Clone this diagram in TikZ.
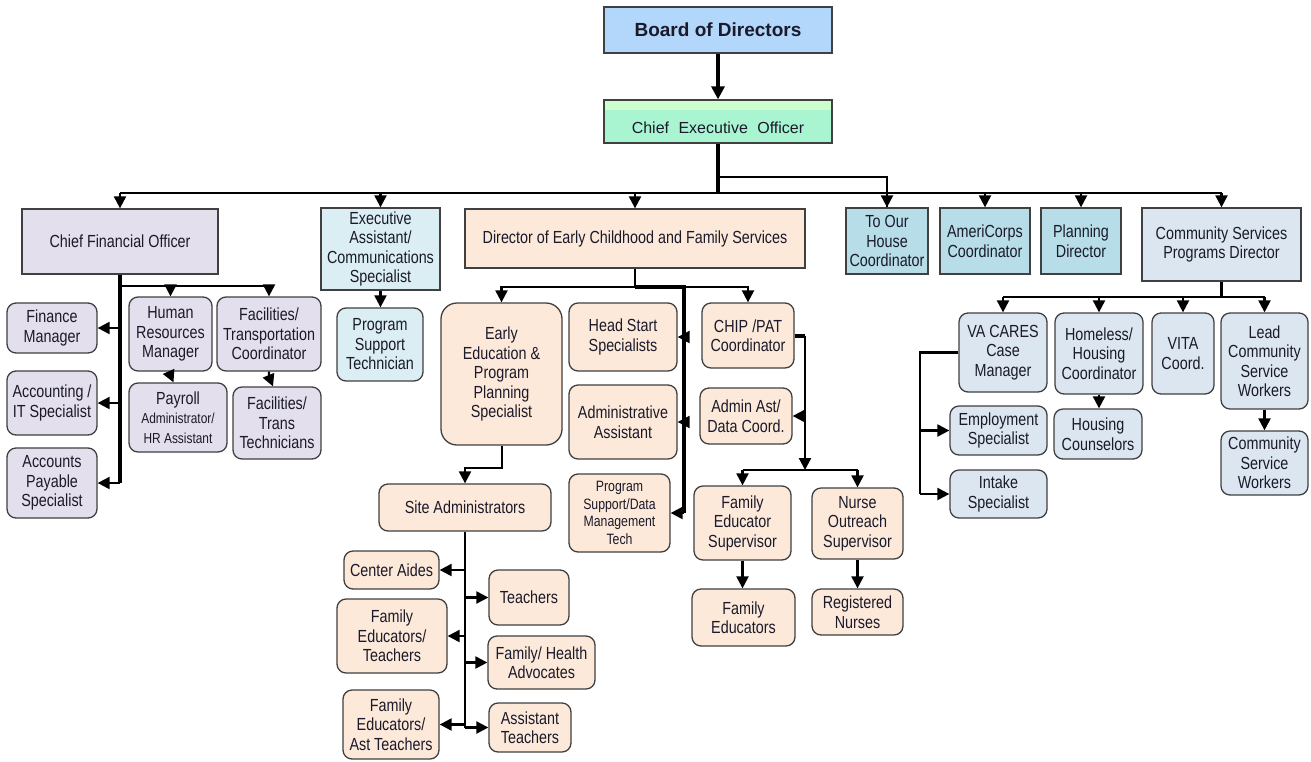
\documentclass[tikz,border=0pt]{standalone}
\usepackage{fontspec}
\setmainfont{Liberation Sans}[FakeStretch=0.82]
\newfontfamily\plainfont{Liberation Sans}
\usetikzlibrary{arrows.meta,calc}
\definecolor{bdfill}{HTML}{B3D6FB}
\definecolor{ceofill}{HTML}{A9F5D2}
\definecolor{ceotop}{HTML}{CCFFCC}
\definecolor{lavbx}{HTML}{E4DFEC}
\definecolor{exbx}{HTML}{DAEEF3}
\definecolor{pchbx}{HTML}{FDE9D9}
\definecolor{tealbx}{HTML}{B7DEE8}
\definecolor{csbx}{HTML}{DCE6F1}
\definecolor{edgec}{HTML}{404040}
\definecolor{txtc}{HTML}{1A1A2A}
\tikzset{
  bx/.style={draw=edgec, line width=1.3pt, inner sep=0pt, align=center,
    font=\fontsize{17.5}{19.5}\selectfont, text=txtc},
  sq/.style={bx},
  rd/.style={bx, rounded corners=9pt},
  ln/.style={line width=2.2pt},
  thk/.style={line width=3.2pt},
  arr/.style={ln, -{Triangle[length=12pt,width=12pt]}},
  tarr/.style={thk, -{Triangle[length=13pt,width=13pt]}},
}
\newcommand\Bx[7]{\node[#1, minimum width={(#5)-(#3)}, minimum height={(#6)-(#4)}] (#2) at ({((#3)+(#5))/2},{((#4)+(#6))/2}) {#7};}
\begin{document}
\begin{tikzpicture}[x=1pt,y=-1pt]
\fill[white] (0,0) rectangle (1311,761);
\useasboundingbox (0,0) rectangle (1311,761);

% top
\Bx{bx,fill=bdfill,font=\plainfont\bfseries\fontsize{19}{22}\selectfont}{board}{604}{7}{832}{53}{Board of Directors}
\Bx{bx,fill=ceofill,font=\plainfont\fontsize{16}{19}\selectfont,
  path picture={\fill[ceotop] (path picture bounding box.north west) rectangle ([yshift=-10pt]path picture bounding box.north east);}}{ceo}{604}{100}{832}{143}{\raisebox{-6pt}[\height][\depth]{Chief\hspace{5pt} Executive\hspace{5pt} Officer}}

% second row
\Bx{sq,fill=lavbx}{cfo}{22}{209}{218}{274}{Chief Financial Officer}
\Bx{sq,fill=exbx}{exec}{321}{208}{440}{290}{Executive\\Assistant/\\Communications\\Specialist}
\Bx{sq,fill=pchbx}{dir}{465}{209}{805}{268}{Director of Early Childhood and Family Services}
\Bx{sq,fill=tealbx}{toh}{846}{208}{928}{274}{To Our\\House\\Coordinator}
\Bx{sq,fill=tealbx}{ameri}{940}{208}{1030}{274}{AmeriCorps\\Coordinator}
\Bx{sq,fill=tealbx}{plan}{1041}{208}{1121}{274}{Planning\\Director}
\Bx{sq,fill=csbx}{cspd}{1142}{208}{1301}{281}{Community Services\\Programs Director}

% finance
\Bx{rd,fill=lavbx}{fin}{7}{303}{97}{353}{Finance\\Manager}
\Bx{rd,fill=lavbx}{acc}{7}{371}{97}{435}{Accounting /\\IT Specialist}
\Bx{rd,fill=lavbx}{ap}{7}{448}{97}{518}{Accounts\\Payable\\Specialist}
\Bx{rd,fill=lavbx}{hr}{129}{297}{212}{371}{Human\\Resources\\Manager}
\Bx{rd,fill=lavbx}{fac}{217}{297}{321}{371}{Facilities/\\Transportation\\Coordinator}
\Bx{rd,fill=lavbx}{pay}{129}{383}{227}{452}{Payroll\\{\fontsize{14.5}{18}\selectfont Administrator/}\\{\fontsize{14.5}{18}\selectfont HR Assistant}}
\Bx{rd,fill=lavbx}{ftech}{233}{387}{321}{459}{Facilities/\\Trans\\Technicians}
\Bx{rd,fill=exbx}{pst}{337}{308}{423}{381}{Program\\Support\\Technician}

% early childhood
\Bx{rd,rounded corners=16pt,fill=pchbx}{eeps}{441}{303}{562}{445}{Early\\Education \&\\Program\\Planning\\Specialist}
\Bx{rd,fill=pchbx}{hs}{569}{303}{677}{371}{Head Start\\Specialists}
\Bx{rd,fill=pchbx}{aa}{569}{385}{677}{459}{Administrative\\Assistant}
\Bx{rd,fill=pchbx,font=\fontsize{15}{17.5}\selectfont}{psdm}{569}{474}{670}{552}{Program\\Support/Data\\Management\\Tech}
\Bx{rd,fill=pchbx}{chip}{702}{303}{794}{368}{CHIP /PAT\\Coordinator}
\Bx{rd,fill=pchbx}{aad}{700}{388}{792}{444}{Admin Ast/\\Data Coord.}
\Bx{rd,fill=pchbx}{fes}{694}{486}{791}{560}{Family\\Educator\\Supervisor}
\Bx{rd,fill=pchbx}{nos}{812}{488}{903}{559}{Nurse\\Outreach\\Supervisor}
\Bx{rd,fill=pchbx}{fe}{692}{589}{795}{646}{Family\\Educators}
\Bx{rd,fill=pchbx}{rn}{812}{589}{903}{635}{Registered\\Nurses}
\Bx{rd,fill=pchbx}{sa}{379}{484}{551}{531}{Site Administrators}
\Bx{rd,fill=pchbx}{ca}{344}{551}{439}{589}{Center Aides}
\Bx{rd,fill=pchbx}{tch}{489}{570}{569}{625}{Teachers}
\Bx{rd,fill=pchbx}{fet}{337}{599}{447}{673}{Family\\Educators/\\Teachers}
\Bx{rd,fill=pchbx}{fha}{488}{636}{595}{689}{Family/ Health\\Advocates}
\Bx{rd,fill=pchbx}{feat}{343}{690}{439}{759}{Family\\Educators/\\Ast Teachers}
\Bx{rd,fill=pchbx}{ast}{489}{703}{571}{752}{Assistant\\Teachers}

% community services
\Bx{rd,fill=csbx}{va}{959}{313}{1047}{392}{VA CARES\\Case\\Manager}
\Bx{rd,fill=csbx}{hh}{1055}{313}{1143}{394}{Homeless/\\Housing\\Coordinator}
\Bx{rd,fill=csbx}{vita}{1152}{313}{1214}{394}{VITA\\Coord.}
\Bx{rd,fill=csbx}{lead}{1221}{313}{1308}{409}{Lead\\Community\\Service\\Workers}
\Bx{rd,fill=csbx}{emp}{950}{406}{1047}{455}{Employment\\Specialist}
\Bx{rd,fill=csbx}{hc}{1054}{409}{1142}{459}{Housing\\Counselors}
\Bx{rd,fill=csbx}{intake}{950}{470}{1047}{518}{Intake\\Specialist}
\Bx{rd,fill=csbx}{csw}{1221}{431}{1308}{495}{Community\\Service\\Workers}

% ---------- connectors ----------
\coordinate (bus) at (718,193);
\coordinate (bus2) at (718,177);
\draw[tarr] (board.south) -- (ceo.north);
\draw[thk] (ceo.south) -- (bus);
\draw[ln] (cfo.north |- bus) -- (cspd.north |- bus);
\foreach \n in {cfo,exec,dir,ameri,plan,cspd}
  \draw[arr] (\n.north |- bus) -- (\n.north);
\draw[ln] (ceo.south |- bus2) -| (toh.north);
\draw[arr] (toh.north |- bus) -- (toh.north);

% CFO
\coordinate (cfoB) at (120,286);
\draw[thk] (cfo.south) -- (cfo.south |- ap.east);
\foreach \n in {fin,acc,ap}
  \draw[arr] (cfo.south |- \n.east) -- (\n.east);
\draw[arr] (cfoB) -| (hr.north);
\draw[arr] (cfoB) -| (fac.north);
\draw[arr] (hr.south) -- ++(0,4) -- ($(hr.south |- pay.north)+(3,0)$);
\draw[arr] (fac.south) -- ++(0,5) -- ($(fac.south |- ftech.north)+(4,0)$);

% Exec
\draw[arr] (exec.south) -- (exec.south |- pst.north);

% Director
\coordinate (dirB) at (635,287);
\coordinate (dirV) at (684,287);
\draw[ln] (dir.south) -- (dirB);
\draw[arr] (dirB) -| (eeps.north);
\draw[arr] (dirV) -| (chip.north);
\draw[thk] (dirB) -- (dirV) -- (dirV |- psdm.east);
\foreach \n in {hs,aa,psdm}
  \draw[arr] (dirV |- \n.east) -- (\n.east);

% CHIP
\coordinate (chipV) at (805,336);
\coordinate (feB) at (805,470);
\draw[thk] (chip.east |- chipV) -- (chipV);
\draw[arr] (chipV) -- (feB);
\draw[arr] (chipV |- aad.east) -- (aad.east);
\draw[ln] (fes.north |- feB) -- (nos.north |- feB);
\draw[arr] (fes.north |- feB) -- (fes.north);
\draw[arr] (nos.north |- feB) -- (nos.north);
\draw[arr] (fes.south) -- (fes.south |- fe.north);
\draw[arr] (nos.south) -- (nos.south |- rn.north);

% Early education
\coordinate (eeB) at (502,468);
\draw[arr] (eeps.south -| eeB) -- (eeB) -| (sa.north);
\draw[ln] (sa.south) -- (sa.south |- ast.west);
\foreach \n in {ca,fet,feat}
  \draw[arr] (sa.south |- \n.east) -- (\n.east);
\foreach \n in {tch,fha,ast}
  \draw[arr] (sa.south |- \n.west) -- (\n.west);

% Community services
\coordinate (csB) at (1222,297);
\draw[ln] (cspd.south) -- (cspd.south |- csB);
\draw[ln] (va.north |- csB) -- (lead.north |- csB);
\foreach \n in {va,hh,vita,lead}
  \draw[arr] (\n.north |- csB) -- (\n.north);
\draw[arr] (hh.south) -- (hh.south |- hc.north);
\draw[arr] (lead.south) -- (lead.south |- csw.north);
\coordinate (vaL) at (920,352);
\draw[ln] (va.west) -- (vaL |- va.west) -- (vaL |- intake.west);
\draw[arr] (vaL |- emp.west) -- (emp.west);
\draw[arr] (vaL |- intake.west) -- (intake.west);
\end{tikzpicture}
\end{document}
